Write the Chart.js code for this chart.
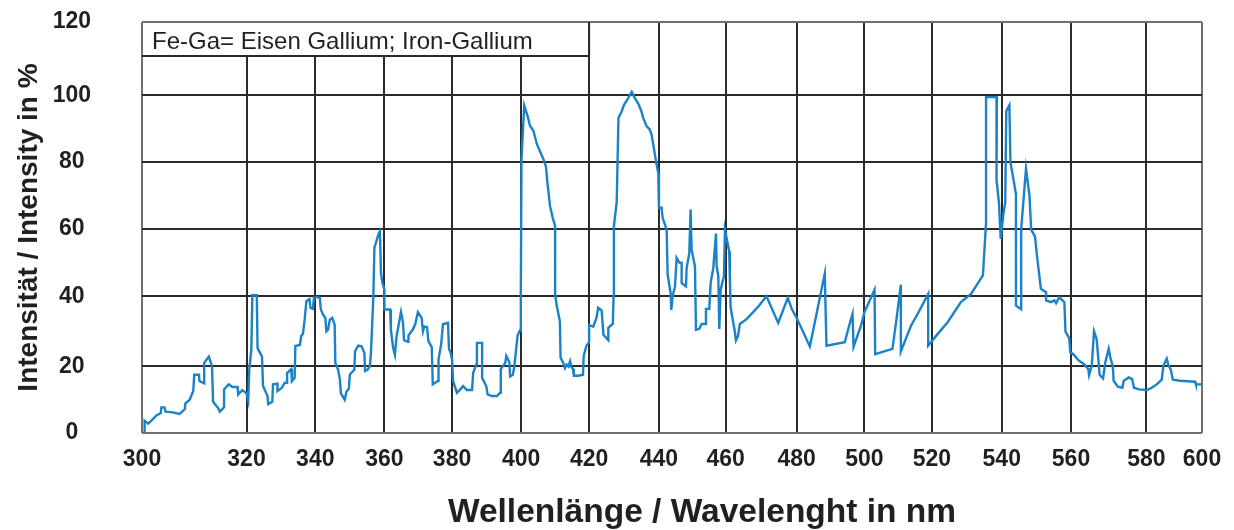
<!DOCTYPE html>
<html>
<head>
<meta charset="utf-8">
<title>Fe-Ga Spektrum</title>
<script src="https://cdn.jsdelivr.net/npm/chart.js@4.4.1/dist/chart.umd.min.js"></script>
<style>
  html, body { margin: 0; padding: 0; background: #fff; }
  #wrap { width: 1234px; height: 530px; position: relative; }
</style>
</head>
<body>
<div id="wrap"><canvas id="spectrum"></canvas></div>
<script>
// Wellenlaenge (nm) und Intensitaet (%)
const wavelength = [
  300.4, 300.5, 301.2, 301.8, 302.7, 303.6, 303.7, 304.3, 304.5, 305.9,
  307.2, 308.2, 308.3, 309.1, 309.8, 310.0, 310.9, 311.0, 311.9, 311.9,
  312.8, 313.4, 313.6, 314.6, 314.9, 315.7, 315.7, 316.6, 317.3, 318.3,
  318.4, 319.2, 320.0, 320.5, 320.8, 321.4, 321.7, 323.0, 323.2, 324.5,
  324.8, 326.1, 326.3, 327.5, 327.7, 329.0, 329.0, 330.3, 331.1, 331.8,
  331.8, 333.0, 333.2, 334.0, 334.2, 335.5, 335.9, 336.4, 336.9, 337.2,
  337.4, 338.3, 338.6, 339.3, 339.6, 340.3, 341.3, 341.6, 342.2, 342.9,
  343.2, 343.7, 344.2, 344.9, 345.6, 345.8, 346.6, 347.1, 347.4, 348.5,
  349.0, 349.7, 350.0, 351.3, 351.5, 352.4, 353.4, 354.2, 354.4, 355.1,
  355.8, 356.1, 356.8, 357.1, 358.4, 358.7, 359.0, 359.4, 360.0, 360.0,
  361.7, 361.9, 362.6, 363.1, 363.6, 364.9, 365.5, 365.8, 367.0, 367.1,
  368.4, 369.1, 369.9, 371.0, 371.4, 371.8, 372.6, 373.0, 374.0, 374.3,
  375.9, 376.0, 376.8, 377.3, 378.8, 379.1, 379.6, 380.0, 380.3, 381.4,
  382.4, 383.2, 384.3, 385.8, 386.1, 387.0, 387.2, 388.7, 388.7, 389.9,
  390.3, 391.5, 393.0, 393.9, 394.1, 395.4, 395.7, 396.6, 396.8, 397.6,
  398.0, 398.6, 399.0, 399.7, 399.9, 400.1, 400.9, 401.9, 402.6, 403.6,
  404.6, 405.4, 406.5, 407.3, 407.7, 408.5, 409.3, 410.0, 410.0, 410.4,
  411.4, 411.6, 412.4, 412.9, 413.4, 413.9, 414.4, 414.8, 415.3, 415.5,
  416.8, 418.2, 418.4, 419.2, 420.0, 420.0, 421.2, 422.1, 422.6, 423.6,
  424.1, 425.5, 425.5, 426.8, 427.0, 427.1, 427.9, 428.4, 429.3, 430.0,
  431.2, 432.2, 433.1, 434.1, 435.0, 435.5, 436.5, 437.4, 437.9, 438.6,
  439.3, 439.8, 440.0, 440.8, 441.1, 441.8, 442.3, 442.6, 443.5, 443.7,
  444.1, 444.8, 445.3, 446.1, 446.8, 446.8, 448.1, 448.3, 449.1, 449.5,
  449.8, 450.8, 451.1, 452.1, 452.8, 454.1, 454.1, 455.1, 455.5, 456.3,
  457.1, 457.3, 457.8, 458.1, 458.5, 459.1, 459.5, 459.8, 460.1, 461.0,
  461.2, 461.4, 461.9, 462.6, 462.9, 463.5, 464.0, 465.8, 467.7, 469.5,
  471.5, 474.8, 477.5, 478.7, 480.0, 483.9, 488.3, 488.8, 494.2, 495.5,
  496.5, 496.8, 499.0, 500.0, 503.0, 503.2, 508.3, 509.4, 510.8, 510.8,
  513.8, 515.8, 518.9, 518.9, 521.6, 524.5, 528.3, 531.2, 534.6, 535.5,
  535.5, 538.6, 538.5, 539.2, 539.7, 540.5, 541.0, 541.3, 542.2, 542.5,
  544.1, 544.1, 545.6, 545.6, 547.0, 548.0, 548.5, 549.6, 550.2, 551.3,
  552.8, 552.8, 554.2, 555.2, 555.7, 556.6, 558.1, 558.4, 559.5, 559.8,
  560.7, 562.0, 563.4, 564.6, 564.8, 565.5, 566.1, 566.8, 567.6, 568.5,
  569.1, 570.0, 570.5, 571.1, 571.3, 572.4, 573.6, 574.0, 575.3, 576.2,
  576.7, 578.0, 580.1, 581.9, 583.7, 585.5, 586.1, 587.3, 587.9, 588.7,
  589.5, 592.1, 597.5, 597.8, 600.0
];
const intensity = [
  0.0, 3.7, 2.8, 3.7, 5.2, 6.0, 7.7, 7.7, 6.4, 6.2,
  5.7, 7.2, 8.9, 9.9, 12.6, 17.5, 17.5, 15.6, 14.9, 21.0,
  22.8, 20.0, 9.4, 7.4, 6.4, 7.7, 13.1, 14.6, 13.8, 13.8,
  11.6, 12.9, 11.9, 9.7, 19.1, 24.7, 40.3, 40.3, 25.2, 22.8,
  14.1, 11.1, 8.7, 9.4, 14.6, 14.8, 12.6, 13.6, 15.1, 15.1,
  18.0, 19.2, 15.6, 16.6, 25.8, 26.1, 28.6, 29.3, 33.3, 36.4,
  38.6, 39.2, 36.7, 36.4, 39.5, 39.8, 39.5, 36.2, 34.8, 33.8,
  30.0, 30.5, 33.3, 33.8, 31.9, 21.0, 19.0, 16.2, 11.9, 10.0,
  12.4, 13.3, 17.6, 19.0, 24.3, 25.9, 25.7, 23.8, 18.6, 19.0,
  20.0, 23.8, 40.0, 54.4, 58.8, 59.3, 46.9, 44.0, 42.0, 36.2,
  36.2, 30.5, 25.2, 23.3, 28.6, 35.5, 32.5, 27.5, 27.0, 28.8,
  30.5, 32.0, 35.5, 33.8, 30.0, 31.4, 31.2, 27.2, 25.5, 14.6,
  15.7, 22.0, 26.5, 32.0, 32.4, 25.0, 23.8, 22.0, 15.6, 12.1,
  13.1, 14.1, 12.9, 12.9, 18.0, 20.5, 26.7, 26.7, 16.6, 14.1,
  11.6, 11.1, 11.1, 12.1, 19.2, 21.0, 23.0, 21.2, 17.0, 17.5,
  19.8, 25.4, 28.9, 30.3, 40.7, 81.0, 97.0, 93.8, 90.9, 89.4,
  85.5, 83.5, 81.0, 78.6, 74.1, 66.8, 63.3, 60.8, 40.7, 37.7,
  32.8, 22.5, 21.0, 19.5, 20.5, 20.0, 21.5, 19.8, 19.2, 17.2,
  17.2, 17.5, 23.0, 25.9, 26.9, 31.8, 31.3, 33.8, 36.7, 35.9,
  29.0, 27.5, 31.0, 32.2, 40.0, 60.9, 67.9, 93.2, 95.2, 97.2,
  99.2, 101.0, 99.2, 97.5, 95.2, 93.2, 90.7, 89.7, 88.2, 83.8,
  79.3, 76.8, 66.3, 66.3, 63.3, 61.3, 59.8, 46.4, 40.9, 36.1,
  40.0, 42.9, 51.4, 50.0, 49.9, 43.9, 42.9, 48.4, 52.8, 65.8,
  53.8, 48.9, 30.4, 30.7, 32.1, 32.1, 36.4, 36.4, 43.9, 48.4,
  58.6, 48.9, 45.9, 30.7, 41.9, 44.4, 45.9, 59.8, 58.3, 53.3,
  44.9, 36.9, 33.9, 29.9, 27.4, 28.7, 32.1, 33.4, 35.4, 37.4,
  40.0, 32.4, 39.5, 36.2, 33.8, 25.7, 46.7, 25.9, 26.9, 31.6,
  35.0, 25.6, 31.6, 35.4, 41.9, 23.5, 25.0, 32.6, 43.4, 24.3,
  31.6, 35.0, 40.7, 25.9, 29.2, 32.6, 38.3, 40.7, 46.2, 61.8,
  99.5, 99.5, 74.7, 67.7, 57.0, 64.7, 67.9, 95.3, 97.1, 80.0,
  70.4, 37.3, 36.3, 59.8, 78.0, 70.0, 59.8, 57.8, 51.8, 42.2,
  41.2, 38.8, 38.3, 38.8, 38.0, 39.7, 38.3, 30.0, 28.0, 24.0,
  23.4, 21.7, 20.7, 19.2, 17.4, 20.2, 30.0, 27.8, 17.4, 16.4,
  21.2, 25.0, 22.2, 20.0, 15.7, 13.9, 13.6, 15.7, 16.7, 16.2,
  13.6, 13.1, 12.9, 13.6, 14.6, 16.0, 20.2, 22.2, 20.4, 19.2,
  16.0, 15.7, 15.4, 14.6, 14.6
];

// Achsenbeschriftung
const xTicks = [300, 320, 340, 360, 380, 400, 420, 440, 460, 480, 500, 520, 540, 560, 580, 600];
const xTickLabels = ['300', '320', '340', '360', '380', '400', '420', '440', '460', '480', '500', '520', '540', '560', '580', '600'];
const yTicks = [0, 20, 40, 60, 80, 100, 120];
const yTickLabels = ['0', '20', '40', '60', '80', '100', '120'];

const noteText = 'Fe-Ga= Eisen Gallium; Iron-Gallium';
const xTitle = 'Wellenlänge / Wavelenght in nm';
const yTitle = 'Intensität / Intensity in %';

// Das Raster im Original ist nicht gleichmaessig: relative Lage jeder Gitterlinie (0..1)
const gridPos = {
  x: [0, 0.0986, 0.1635, 0.2287, 0.2925, 0.3577, 0.4218, 0.4877, 0.5506, 0.6176, 0.6815, 0.7452, 0.8111, 0.8764, 0.9476, 1],
  y: [0, 0.162, 0.3328, 0.4966, 0.6594, 0.8212, 1]
};
const gridValues = { x: xTicks, y: yTicks };

const TEXT = '#231f20';
const GRID = '#2b2b2b';
const EDGE = '#707070';
const LINE = '#1a82c8';
const FONT = '"Liberation Sans", Arial, sans-serif';

// Lineare Achse, aber stueckweise zwischen den Gitterlinien
class PiecewiseScale extends Chart.LinearScale {
  toDecimal(v) {
    const k = gridValues[this.id], f = gridPos[this.id];
    let i = 1;
    while (i < k.length - 1 && v > k[i]) i++;
    return f[i - 1] + (v - k[i - 1]) / (k[i] - k[i - 1]) * (f[i] - f[i - 1]);
  }
  getPixelForValue(v) {
    if (v === null || v === undefined) return NaN;
    return this.getPixelForDecimal(this.toDecimal(v));
  }
  getValueForPixel(p) {
    const d = this.getDecimalForPixel(p);
    const k = gridValues[this.id], f = gridPos[this.id];
    let i = 1;
    while (i < f.length - 1 && d > f[i]) i++;
    return k[i - 1] + (d - f[i - 1]) / (f[i] - f[i - 1]) * (k[i] - k[i - 1]);
  }
}
PiecewiseScale.id = 'piecewise';
PiecewiseScale.defaults = Chart.LinearScale.defaults;
Chart.register(PiecewiseScale);

// Kasten oben links und Titel der x-Achse
const frameNote = {
  id: 'frameNote',
  afterDraw(chart) {
    const { ctx, chartArea, scales } = chart;
    const left = scales.x.getPixelForValue(300);
    const right = scales.x.getPixelForValue(420);
    const top = chartArea.top;
    ctx.save();
    ctx.fillStyle = '#fff';
    ctx.fillRect(left + 1, top + 1, right - left - 2, 33);
    ctx.strokeStyle = GRID;
    ctx.lineWidth = 2;
    ctx.beginPath();
    ctx.moveTo(left, top + 34);
    ctx.lineTo(right, top + 34);
    ctx.moveTo(right, top);
    ctx.lineTo(right, top + 34);
    ctx.stroke();
    ctx.fillStyle = TEXT;
    ctx.font = '24px ' + FONT;
    ctx.textBaseline = 'alphabetic';
    ctx.textAlign = 'left';
    ctx.fillText(noteText, left + 10, top + 27);

    ctx.font = 'bold 33.5px ' + FONT;
    ctx.textAlign = 'center';
    ctx.fillText(xTitle, 702, 521.5);
    ctx.restore();
  }
};

const edgeColor = (values) => (c) => {
  const v = c.tick ? c.tick.value : null;
  return (v === values[0] || v === values[values.length - 1]) ? EDGE : GRID;
};

new Chart(document.getElementById('spectrum'), {
  type: 'line',
  data: {
    datasets: [{
      data: wavelength.map((w, i) => ({ x: w, y: intensity[i] })),
      borderColor: LINE,
      borderWidth: 2.4,
      pointRadius: 0,
      tension: 0,
      fill: false
    }]
  },
  options: {
    responsive: true,
    maintainAspectRatio: false,
    animation: false,
    layout: { padding: { top: 22, right: 32, left: 0, bottom: 0 } },
    plugins: {
      legend: { display: false },
      tooltip: { enabled: false }
    },
    scales: {
      x: {
        type: 'piecewise',
        min: 300,
        max: 600,
        afterBuildTicks: (s) => { s.ticks = xTicks.map(v => ({ value: v })); },
        afterFit: (s) => { s.height = 97; s.paddingLeft = 0; s.paddingRight = 0; },
        border: { display: false },
        grid: { color: edgeColor(xTicks), lineWidth: 2, drawTicks: false },
        ticks: {
          autoSkip: false,
          maxRotation: 0,
          padding: 13,
          color: TEXT,
          font: { family: FONT, size: 23, weight: 'bold' },
          callback: (v, i) => xTickLabels[i]
        }
      },
      y: {
        type: 'piecewise',
        min: 0,
        max: 120,
        afterBuildTicks: (s) => { s.ticks = yTicks.map(v => ({ value: v })); },
        afterFit: (s) => { s.width = 142; s.paddingTop = 0; s.paddingBottom = 0; },
        border: { display: false },
        grid: { color: edgeColor(yTicks), lineWidth: 2, drawTicks: false },
        ticks: {
          autoSkip: false,
          crossAlign: 'center',
          padding: 51,
          color: TEXT,
          font: { family: FONT, size: 23, weight: 'bold' },
          callback: (v, i) => yTickLabels[i]
        },
        title: {
          display: true,
          text: yTitle,
          color: TEXT,
          font: { family: FONT, size: 28, weight: 'bold' },
          padding: { top: 12, bottom: 0 }
        }
      }
    }
  },
  plugins: [frameNote]
});
</script>
</body>
</html>
